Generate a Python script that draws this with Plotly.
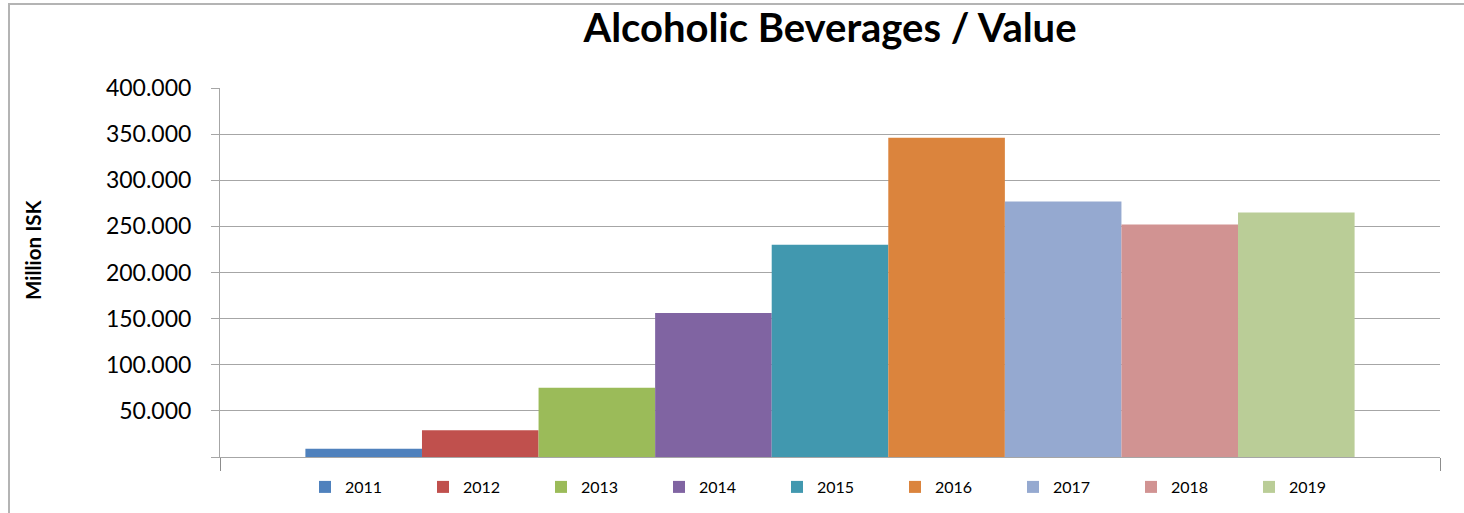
import plotly.graph_objects as go

years = ["2011", "2012", "2013", "2014", "2015", "2016", "2017", "2018", "2019"]
values = [9000, 29000, 75000, 156000, 230000, 346000, 277000, 252000, 265000]
colors = ["#4F81BD", "#C0504D", "#9BBB59", "#8064A2", "#4198AF",
          "#DB843D", "#95A9D0", "#D19392", "#BACD97"]
y_tickvals = [0, 50000, 100000, 150000, 200000, 250000, 300000, 350000, 400000]
y_ticktext = ["", "50.000", "100.000", "150.000", "200.000", "250.000",
              "300.000", "350.000", "400.000"]
title_text = "Alcoholic Beverages / Value"
y_label = "Million ISK"

FONT = "Lato"
fig = go.Figure()
for yr, v, c in zip(years, values, colors):
    fig.add_trace(go.Bar(x=[0.5], y=[v], name=yr,
                         marker=dict(color=c, line=dict(width=0))))

fig.update_layout(
    width=1464, height=513,
    margin=dict(l=220, r=24, t=88, b=56, autoexpand=False),
    paper_bgcolor="white", plot_bgcolor="white",
    barmode="group", bargap=0.14, bargroupgap=0,
    font=dict(family=FONT, color="#000000"),
    title=dict(text="<b>" + title_text + "</b>", x=0.5, xref="paper",
               xanchor="center", y=1 - 28 / 513, yref="container",
               yanchor="middle", font=dict(family=FONT, size=40, color="#000000")),
    xaxis=dict(range=[0, 1], tickvals=[0, 1], ticktext=["", ""],
               ticks="outside", ticklen=13, tickcolor="#8c8c8c",
               showgrid=False, zeroline=False, showline=True,
               linecolor="#a6a6a6", linewidth=1, fixedrange=True),
    yaxis=dict(range=[0, 400000], tickvals=y_tickvals, ticktext=y_ticktext,
               ticks="outside", ticklen=8, tickcolor="#a6a6a6",
               showgrid=True, gridcolor="#a6a6a6", gridwidth=1,
               zeroline=False, showline=True, linecolor="#a6a6a6",
               linewidth=1, ticklabelstandoff=15, fixedrange=True,
               tickfont=dict(family=FONT, size=23, color="#000000")),
    legend=dict(orientation="h", x=0.5 + 6 / 1220, xanchor="center",
                y=-30 / 369, yanchor="middle",
                entrywidth=73, entrywidthmode="pixels",
                font=dict(family=FONT, size=16, color="#000000"),
                bgcolor="rgba(0,0,0,0)", traceorder="normal"),
    showlegend=True,
)

fig.add_annotation(text="<b>" + y_label + "</b>", textangle=-90,
                   xref="paper", yref="paper",
                   x=(33 - 220) / 1220, y=(457 - 250) / 369,
                   xanchor="center", yanchor="middle", showarrow=False,
                   font=dict(family=FONT, size=20.5, color="#000000"))

fig.add_shape(type="rect", xref="paper", yref="paper",
              x0=(9 - 220) / 1220, x1=(1480 - 220) / 1220,
              y0=(457 - 530) / 369, y1=(457 - 4) / 369,
              line=dict(color="#b4b4b4", width=2), fillcolor="rgba(0,0,0,0)",
              layer="below")

fig.write_html("out.html",
               config={"displayModeBar": False},
               post_script="document.body.style.margin='0';"
                           "document.body.style.padding='0';")
